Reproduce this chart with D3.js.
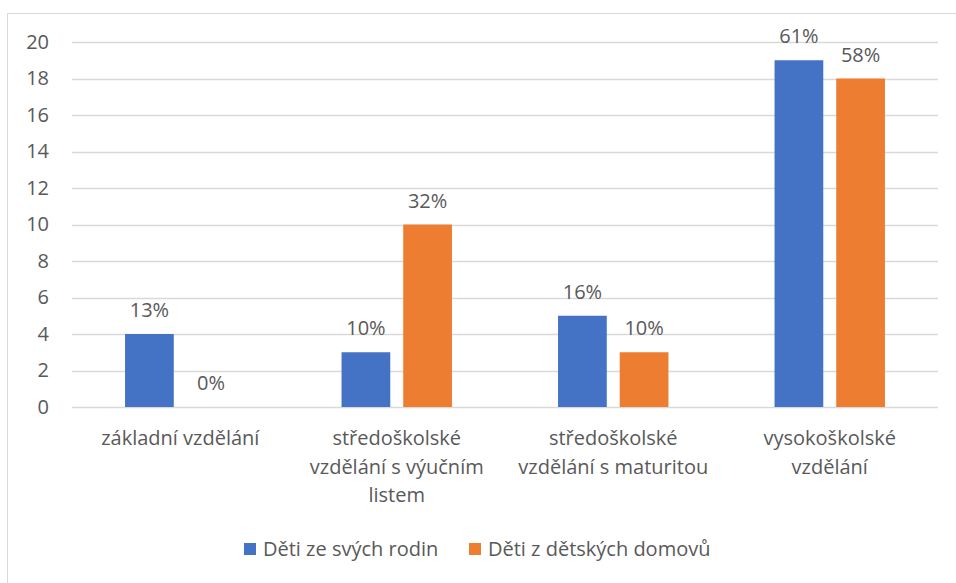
<!DOCTYPE html>
<html>
<head>
<meta charset="utf-8">
<script src="https://cdn.jsdelivr.net/npm/d3@7"></script>
<style>
  body { margin: 0; background: #fff; }
  svg text { font-family: "Open Sans", sans-serif; fill: #595959; }
</style>
</head>
<body>
<script>
var categories = ['základní vzdělání', 'středoškolské vzdělání s výučním listem', 'středoškolské vzdělání s maturitou', 'vysokoškolské vzdělání'];
var seriesNames = ['Děti ze svých rodin', 'Děti z dětských domovů'];
var familyValues = [4, 3, 5, 19];
var homeValues = [0, 10, 3, 18];
var familyLabels = ['13%', '10%', '16%', '61%'];
var homeLabels = ['0%', '32%', '10%', '58%'];
var yTicks = [0, 2, 4, 6, 8, 10, 12, 14, 16, 18, 20];
var colors = ['#4472C4', '#ED7D31'];

var width = 956, height = 583;
var plotLeft = 72, plotRight = 938, plotTop = 42, plotBottom = 407;
var fontSize = 20;

var svg = d3.select('body').append('svg').attr('width', width).attr('height', height);

// chart frame (cropped on the right and bottom)
svg.append('rect').attr('x', 7.5).attr('y', 13.5).attr('width', 1000).attr('height', 1000)
   .attr('fill', 'none').attr('stroke', '#d9d9d9');

var y = d3.scaleLinear().domain([0, 20]).range([plotBottom, plotTop]);
var x0 = d3.scaleBand().domain(categories).range([plotLeft, plotRight]).paddingInner(0.49).paddingOuter(0.245);
var x1 = d3.scaleBand().domain([0, 1]).range([0, x0.bandwidth()]).paddingInner(0.21);

// gridlines
svg.append('g').selectAll('line').data(yTicks).enter().append('line')
   .attr('x1', plotLeft).attr('x2', plotRight)
   .attr('y1', function (d) { return Math.round(y(d)) + 0.5; })
   .attr('y2', function (d) { return Math.round(y(d)) + 0.5; })
   .attr('stroke', '#d9d9d9').attr('stroke-width', 1.5);

// y axis labels
var yAxis = svg.append('g').attr('transform', 'translate(' + (plotLeft - 23) + ',0)')
   .call(d3.axisLeft(y).tickValues(yTicks).tickSize(0).tickPadding(0));
yAxis.select('.domain').remove();
yAxis.selectAll('text').attr('font-size', fontSize).style('font-family', '"Open Sans", sans-serif').attr('fill', '#595959');

var rows = categories.map(function (c, i) {
  return { cat: c, vals: [familyValues[i], homeValues[i]], labels: [familyLabels[i], homeLabels[i]] };
});

var groups = svg.append('g').selectAll('g').data(rows).enter().append('g')
   .attr('transform', function (d) { return 'translate(' + x0(d.cat) + ',0)'; });

groups.selectAll('rect').data(function (d) { return d.vals; }).enter().append('rect')
   .attr('x', function (d, i) { return x1(i); })
   .attr('width', x1.bandwidth())
   .attr('y', function (d) { return y(d); })
   .attr('height', function (d) { return y(0) - y(d); })
   .attr('fill', function (d, i) { return colors[i]; });

groups.selectAll('text').data(function (d) { return d.vals.map(function (v, i) { return { v: v, l: d.labels[i] }; }); })
   .enter().append('text')
   .attr('x', function (d, i) { return x1(i) + x1.bandwidth() / 2; })
   .attr('y', function (d) { return y(d.v) - 17; })
   .attr('text-anchor', 'middle').attr('font-size', fontSize)
   .text(function (d) { return d.l; });

// category labels, wrapped
var wrapWidth = 192;
var catText = svg.append('g').selectAll('text').data(categories).enter().append('text')
   .attr('x', function (d) { return x0(d) + x0.bandwidth() / 2; })
   .attr('y', 445)
   .attr('text-anchor', 'middle').attr('font-size', fontSize);

catText.each(function (d) {
  var el = d3.select(this);
  var words = d.split(' '), line = [];
  var tspan = el.append('tspan').attr('x', el.attr('x')).attr('dy', 0);
  words.forEach(function (w) {
    line.push(w);
    tspan.text(line.join(' '));
    if (tspan.node().getComputedTextLength() > wrapWidth && line.length > 1) {
      line.pop();
      tspan.text(line.join(' '));
      line = [w];
      tspan = el.append('tspan').attr('x', el.attr('x')).attr('dy', 28.5).text(w);
    }
  });
});

// legend
var legendX = [244, 469];
var legend = svg.append('g').selectAll('g').data(seriesNames).enter().append('g')
   .attr('transform', function (d, i) { return 'translate(' + legendX[i] + ',543)'; });
legend.append('rect').attr('width', 12).attr('height', 12)
   .attr('fill', function (d, i) { return colors[i]; });
legend.append('text').attr('x', 19).attr('y', 13).attr('font-size', fontSize)
   .text(function (d) { return d; });
</script>
</body>
</html>
